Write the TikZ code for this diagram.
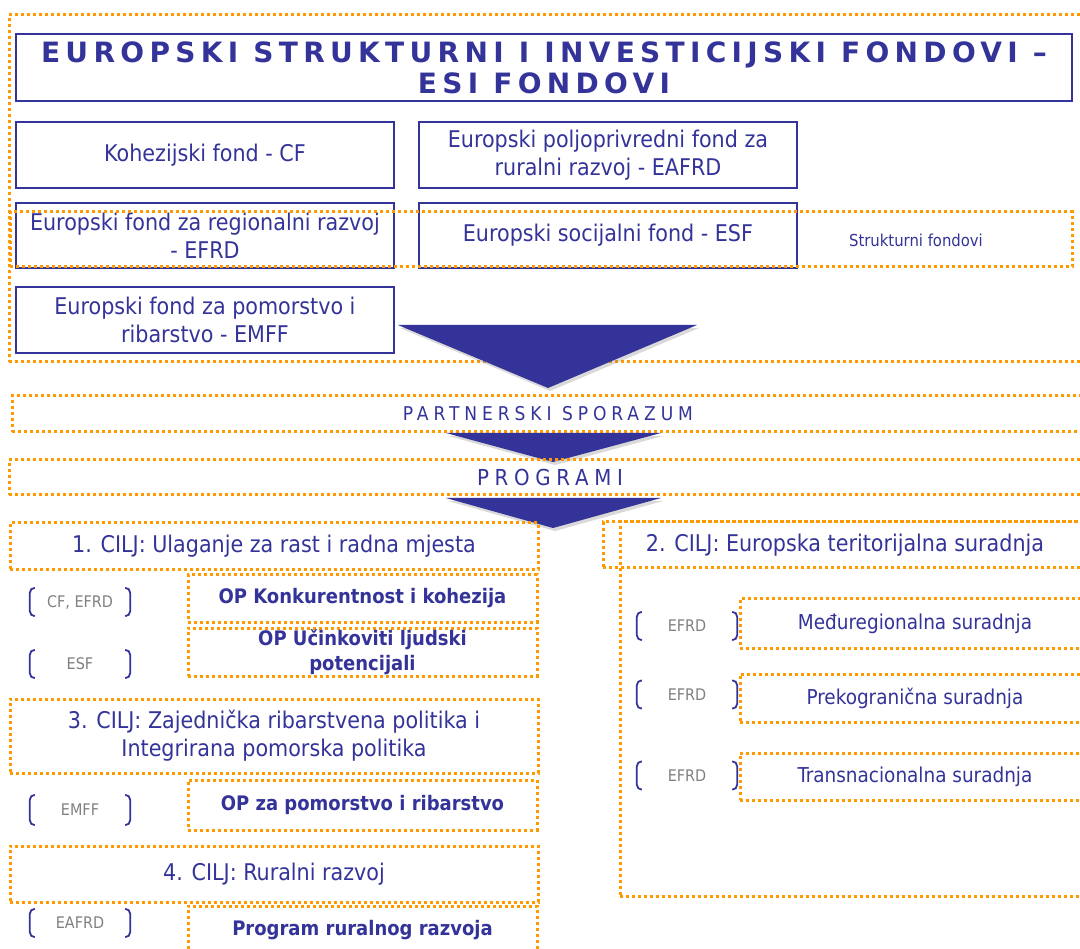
\documentclass[tikz,border=0pt]{standalone}
\usepackage{fontspec}
\setmainfont{DejaVu Sans Condensed}
\newfontfamily\titlefont{DejaVu Sans}[LetterSpace=19]
\newfontfamily\spacedfont{DejaVu Sans Condensed}[LetterSpace=26]
\usetikzlibrary{shadows}

\definecolor{esiblue}{RGB}{51,51,153}
\definecolor{esiorange}{RGB}{255,153,0}
\definecolor{esigray}{RGB}{128,128,128}

\tikzset{
  fund/.style={draw=esiblue, line width=2pt, text=esiblue, inner sep=0pt, align=center,
    font=\fontsize{23}{28}\selectfont},
  dotbox/.style={draw=esiorange, line width=3pt, dash pattern=on 3pt off 3pt, inner sep=0pt,
    text=esiblue, align=center, font=\fontsize{23}{28}\selectfont},
  opbox/.style={dotbox, font=\fontsize{20}{25}\selectfont\bfseries},
  itembox/.style={dotbox, font=\fontsize{20.5}{25}\selectfont},
  fundtag/.style={text=esigray, inner sep=0pt, minimum width=100, font=\fontsize{16}{19}\selectfont},
  brk/.style={draw=esiblue, line width=1.8pt},
  chevron/.style={fill=esiblue, drop shadow={shadow xshift=2pt, shadow yshift=-3pt, opacity=.3}},
}

% brackets round a fund tag
\newcommand{\tagbrackets}[1]{%
  \draw[brk] ([xshift=5pt]#1.north west) to[out=180,in=90] ([yshift=-5pt]#1.north west)
    -- ([yshift=5pt]#1.south west) to[out=-90,in=180] ([xshift=5pt]#1.south west);
  \draw[brk] ([xshift=-5pt]#1.north east) to[out=0,in=90] ([yshift=-5pt]#1.north east)
    -- ([yshift=5pt]#1.south east) to[out=-90,in=0] ([xshift=-5pt]#1.south east);}

\begin{document}
\begin{tikzpicture}[x=1pt, y=-1pt]
    \useasboundingbox (0,0) rectangle (1080,949);

    % ESI funds
    \node[fund, minimum width=1056, minimum height=67, font=\titlefont\bfseries\fontsize{28}{31}\selectfont] (title) at (544,67.5)
        {EUROPSKI STRUKTURNI I INVESTICIJSKI FONDOVI –\\ESI FONDOVI};
    \node[fund, minimum width=378, minimum height=66] (cf) at (205,155) {Kohezijski fond - CF};
    \node[fund, minimum width=378, minimum height=66] (eafrd) at (608,155) {Europski poljoprivredni fond za\\ruralni razvoj - EAFRD};
    \node[fund, minimum width=378, minimum height=65] (efrd) at (205,235.5) {Europski fond za regionalni razvoj\\- EFRD};
    \node[fund, minimum width=378, minimum height=65] (esf) at (608,235.5) {Europski socijalni fond - ESF};
    \node[fund, minimum width=378, minimum height=66] (emff) at (205,320) {Europski fond za pomorstvo i\\ribarstvo - EMFF};

    % structural funds
    \node[dotbox, minimum width=1062, minimum height=55] (struct) at (541,239.5) {};
    \node[text=esiblue, font=\fontsize{16.5}{19}\selectfont] (structlbl) at (916,240) {Strukturni fondovi};
    \node[dotbox, minimum width=1079, minimum height=347] (esi) at (548.5,188.5) {};

    % arrows down
    \fill[chevron] (398,325) -- (697,325) -- (548,388) -- cycle;
    \node[dotbox, minimum width=1072, minimum height=36, font=\spacedfont\fontsize{19}{22}\selectfont] (ps) at (548,414)
        {PARTNERSKI SPORAZUM};
    \fill[chevron] (446,433) -- (661,433) -- (553,462) -- cycle;
    \node[dotbox, minimum width=1082, minimum height=35, font=\spacedfont\fontsize{22}{26}\selectfont] (prog) at (550,477.5)
        {PROGRAMI};
    \fill[chevron] (446,498) -- (661,498) -- (553,528) -- cycle;

    % left column
    \node[dotbox, minimum width=528, minimum height=47] (cilj1) at (274,546.5) {1. CILJ: Ulaganje za rast i radna mjesta};
    \node[opbox, minimum width=349, minimum height=47] (op1) at (362.5,598.5) {OP Konkurentnost i kohezija};
    \node[opbox, minimum width=349, minimum height=48] (op2) at (362.5,652) {OP Učinkoviti ljudski\\potencijali};
    \node[dotbox, minimum width=528, minimum height=74] (cilj3) at (274,736) {3. CILJ: Zajednička ribarstvena politika i\\Integrirana pomorska politika};
    \node[opbox, minimum width=349, minimum height=50] (op3) at (362.5,805) {OP za pomorstvo i ribarstvo};
    \node[dotbox, minimum width=528, minimum height=56] (cilj4) at (274,874) {4. CILJ: Ruralni razvoj};
    \node[opbox, minimum width=349, minimum height=48] (op4) at (362.5,930) {Program ruralnog razvoja};

    \node[fundtag, minimum height=28] (tcf) at (80,602) {CF, EFRD};
    \node[fundtag, minimum height=28] (tesf) at (80,664) {ESF};
    \node[fundtag, minimum height=30] (temff) at (80,810) {EMFF};
    \node[fundtag, minimum height=28] (teafrd) at (80,923) {EAFRD};
    \tagbrackets{tcf}
    \tagbrackets{tesf}
    \tagbrackets{temff}
    \tagbrackets{teafrd}

    % right column
    \node[dotbox, minimum width=468, minimum height=374] (etc) at (854,709) {};
    \node[dotbox, minimum width=484, minimum height=46] (cilj2) at (845,545) {2. CILJ: Europska teritorijalna suradnja};
    \node[itembox, minimum width=350, minimum height=49] (r1) at (915,623.5) {Međuregionalna suradnja};
    \node[itembox, minimum width=350, minimum height=48] (r2) at (915,698) {Prekogranična suradnja};
    \node[itembox, minimum width=350, minimum height=47] (r3) at (915,776.5) {Transnacionalna suradnja};

    \node[fundtag, minimum height=28] (tr1) at (687,626) {EFRD};
    \node[fundtag, minimum height=28] (tr2) at (687,694.5) {EFRD};
    \node[fundtag, minimum height=28] (tr3) at (687,775.5) {EFRD};
    \tagbrackets{tr1}
    \tagbrackets{tr2}
    \tagbrackets{tr3}
\end{tikzpicture}
\end{document}
